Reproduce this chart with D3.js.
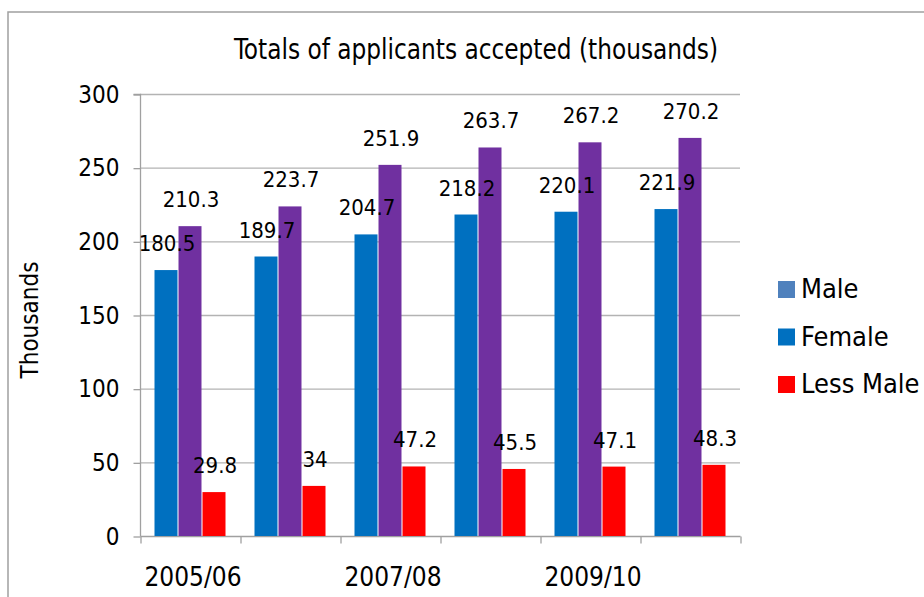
<!doctype html>
<html>
<head>
	<meta charset="utf-8">
	<title>Totals of applicants accepted</title>
	<script src="https://cdnjs.cloudflare.com/ajax/libs/d3/7.8.5/d3.min.js"></script>
	<style>
		body { margin: 0; background: #fff; }
		svg text { font-family: "DejaVu Sans Condensed", "DejaVu Sans", sans-serif; fill: #000; }
	</style>
</head>
<body>
	<script>
		// data
		var categories = ['2005/06', '2006/07', '2007/08', '2008/09', '2009/10', '2010/11'];
		var shownLabels = ['2005/06', '2007/08', '2009/10'];
		var seriesNames = ['Male', 'Female', 'Less Male'];
		var maleValues = [180.5, 189.7, 204.7, 218.2, 220.1, 221.9];
		var femaleValues = [210.3, 223.7, 251.9, 263.7, 267.2, 270.2];
		var lessMaleValues = [29.8, 34, 47.2, 45.5, 47.1, 48.3];
		var yTicks = [0, 50, 100, 150, 200, 250, 300];

		// bar colours and legend colours (legend does not match the bars in the source)
		var barColors = ['#0070c0', '#7030a0', '#ff0000'];
		var legendColors = ['#4f81bd', '#0070c0', '#ff0000'];

		var series = [maleValues, femaleValues, lessMaleValues];

		var svg = d3.select('body').append('svg')
			.attr('width', 924)
			.attr('height', 597);

		// outer chart frame, runs off the right and bottom edges
		svg.append('rect')
			.attr('x', 8).attr('y', 12)
			.attr('width', 1000).attr('height', 700)
			.attr('fill', 'none')
			.attr('stroke', '#a0a0a0')
			.attr('stroke-width', 1.5);

		var x0 = d3.scaleBand().domain(categories).range([140, 740]);
		var x1 = d3.scaleBand().domain(d3.range(3)).range([14.5, 85.5]).paddingInner(0.042);
		var y = d3.scaleLinear().domain([0, 300]).range([536, 94]);

		// gridlines
		svg.append('g')
			.selectAll('line')
			.data(yTicks.slice(1))
			.enter().append('line')
			.attr('x1', 140).attr('x2', 740)
			.attr('y1', function (d) { return y(d) + 0.5; })
			.attr('y2', function (d) { return y(d) + 0.5; })
			.attr('stroke', '#b3b3b3')
			.attr('stroke-width', 1.3);

		// y axis
		var yAxis = svg.append('g')
			.attr('transform', 'translate(140.5,0.5)')
			.call(d3.axisLeft(y).tickValues(yTicks).tickSize(7).tickPadding(14));
		yAxis.selectAll('line, path').attr('stroke', '#a0a0a0').attr('stroke-width', 1.3);
		yAxis.select('.domain').attr('d', 'M-7,' + y(300) + 'H0V' + y(0));
		yAxis.selectAll('text').style('font-size', '24px').attr('fill', '#000');

		// x axis: ticks on category boundaries
		var xb = d3.scaleLinear().domain([0, categories.length]).range([140, 740]);
		var xAxis = svg.append('g')
			.attr('transform', 'translate(0.5,' + (y(0) + 0.5) + ')')
			.call(d3.axisBottom(xb).ticks(categories.length).tickSize(7).tickFormat(''));
		xAxis.selectAll('line, path').attr('stroke', '#a0a0a0').attr('stroke-width', 1.3);
		xAxis.select('.domain').attr('d', 'M140,0H740');

		svg.append('g')
			.selectAll('text')
			.data(shownLabels)
			.enter().append('text')
			.attr('x', function (d) { return x0(d) + x0.bandwidth() / 2 + 3; })
			.attr('y', 586)
			.attr('text-anchor', 'middle')
			.style('font-size', '26px')
			.text(function (d) { return d; });

		// bars
		var groups = svg.append('g')
			.selectAll('g')
			.data(categories)
			.enter().append('g')
			.attr('transform', function (d) { return 'translate(' + x0(d) + ',0)'; });

		groups.selectAll('rect')
			.data(function (d, i) { return series.map(function (s, k) { return { k: k, v: s[i] }; }); })
			.enter().append('rect')
			.attr('x', function (d) { return x1(d.k); })
			.attr('width', x1.bandwidth())
			.attr('y', function (d) { return y(d.v); })
			.attr('height', function (d) { return y(0) - y(d.v); })
			.attr('fill', function (d) { return barColors[d.k]; });

		groups.selectAll('text')
			.data(function (d, i) { return series.map(function (s, k) { return { k: k, v: s[i] }; }); })
			.enter().append('text')
			.attr('x', function (d) { return x1(d.k) + x1.bandwidth() / 2 + 1; })
			.attr('y', function (d) { return y(d.v) - 19; })
			.attr('text-anchor', 'middle')
			.style('font-size', '22px')
			.text(function (d) { return d.v; });

		// title
		svg.append('text')
			.attr('x', 476).attr('y', 59)
			.attr('text-anchor', 'middle')
			.attr('textLength', 484)
			.attr('lengthAdjust', 'spacingAndGlyphs')
			.style('font-size', '28px')
			.text('Totals of applicants accepted (thousands)');

		// axis title
		svg.append('text')
			.attr('transform', 'translate(38,320) rotate(-90)')
			.attr('text-anchor', 'middle')
			.style('font-size', '24px')
			.text('Thousands');

		// legend
		var legend = svg.append('g')
			.selectAll('g')
			.data(seriesNames)
			.enter().append('g')
			.attr('transform', function (d, i) { return 'translate(778,' + (281 + i * 47.5) + ')'; });

		legend.append('rect')
			.attr('width', 17).attr('height', 17)
			.attr('fill', function (d, i) { return legendColors[i]; });

		legend.append('text')
			.attr('x', 23).attr('y', 17)
			.style('font-size', '27px')
			.text(function (d) { return d; });
	</script>
</body>
</html>
